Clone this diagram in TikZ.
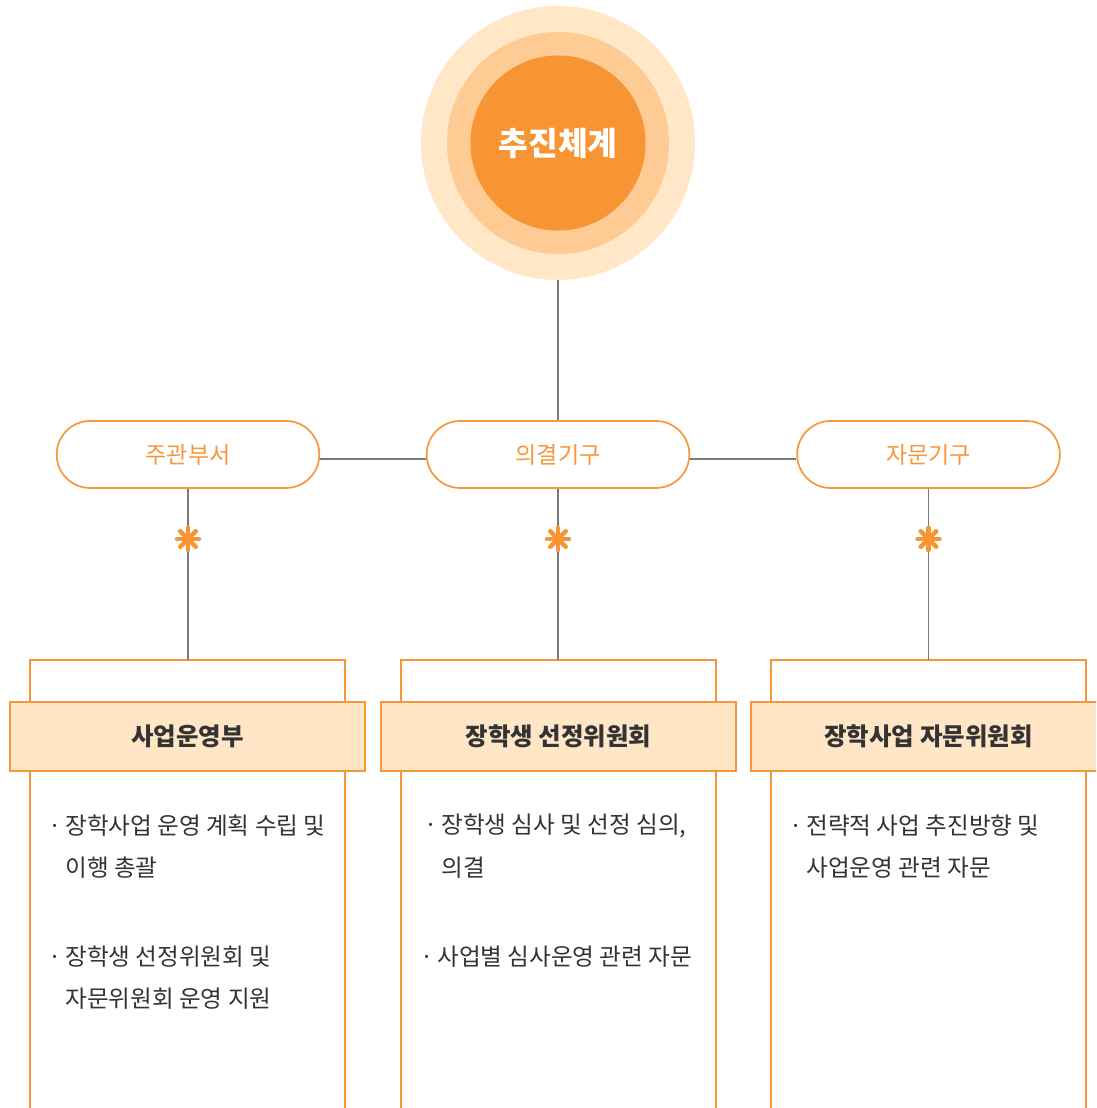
\documentclass[tikz,border=0pt]{standalone}
\usepackage{fontspec}
\setmainfont{Noto Sans CJK KR}
\usetikzlibrary{positioning, shapes.misc}
\definecolor{ringouter}{HTML}{FFE7C8}
\definecolor{ringmid}{HTML}{FDCB93}
\definecolor{ringinner}{HTML}{F79433}
\definecolor{edgeorange}{HTML}{F7963A}
\definecolor{linegray}{HTML}{7A7A7A}
\definecolor{headfill}{HTML}{FFE6C6}
\definecolor{textdark}{HTML}{333333}
\tikzset{
    pill/.style={
        draw=edgeorange, line width=1.2pt, rounded rectangle, fill=white,
        minimum width=6.8cm, minimum height=1.675cm,
        text=edgeorange, font=\fontsize{16.4}{19}\selectfont
    },
    header/.style={
        draw=edgeorange, line width=1.2pt, fill=headfill,
        minimum width=8.875cm, minimum height=1.725cm, inner sep=0pt,
        text=textdark, font=\bfseries\fontsize{17.4}{20}\selectfont
    },
    frame/.style = {draw=edgeorange, line width=1.2pt},
    link/.style = {draw=linegray, line width=1.2pt},
    item/.style = {anchor=west, inner sep=0pt, text=textdark, font=\fontsize{16.8}{20}\selectfont},
    spark/.style = {draw=ringinner, line width=3.2pt, line cap=round}
}
\newcommand{\dotmark}{\makebox[0.425cm][l]{·}}

\begin{document}
\begin{tikzpicture}[x=0.025cm, y=-0.025cm]

    \useasboundingbox (0,0) rectangle (1096,1108);
    \clip (0,0) rectangle (1096,1108);

    % Title rings
    \node[circle, fill=ringouter, minimum size=6.85cm] (ring1) at (558,143) {};
    \node[circle, fill=ringmid, minimum size=5.55cm] (ring2) at (558,143) {};
    \node[circle, fill=ringinner, minimum size=4.375cm, text=white,
        font=\bfseries\fontsize{23}{27}\selectfont] (core) at (558,143) {추진체계};

    % Level two
    \node[pill] (mainorg) at (558,454.5) {의결기구};
    \node[pill] (leftorg) at (188,454.5) {주관부서};
    \node[pill] (rightorg) at (928.5,454.5) {자문기구};

    \draw[link] (ring1.south) -- (mainorg.north);
    \draw[link] ([yshift=-3pt]leftorg.east) -- ([yshift=-3pt]mainorg.west);
    \draw[link] ([yshift=-3pt]mainorg.east) -- ([yshift=-3pt]rightorg.west);

    % Frames
    \draw[frame] (30,1120) -- (30,660) -- (345,660) -- (345,1120);
    \draw[frame] (401,1120) -- (401,660) -- (716,660) -- (716,1120);
    \draw[frame] (771,1120) -- (771,660) -- (1086,660) -- (1086,1120);

    \coordinate (lefttop) at (188,660);
    \coordinate (maintop) at (558,660);
    \coordinate (righttop) at (928.5,660);

    \draw[link] (leftorg.south) -- (lefttop);
    \draw[link] (mainorg.south) -- (maintop);
    \draw[link] (rightorg.south) -- (righttop);

    % Sparks
    \coordinate (leftspark) at (188,539);
    \coordinate (mainspark) at (558,539);
    \coordinate (rightspark) at (928.5,539);
    \foreach \s in {leftspark, mainspark, rightspark}
        \foreach \a in {0,45,90,135}
            \draw[spark] ([shift={(\a:11)}]\s) -- ([shift={(\a+180:11)}]\s);

    % Headers
    \node[header] (lefthead) at (187.5,736.5) {사업운영부};
    \node[header] (mainhead) at (558.5,736.5) {장학생 선정위원회};
    \node[header] (righthead) at (928.5,736.5) {장학사업 자문위원회};

    % Items
    \node[item] (leftitema) at (48,826) {\dotmark 장학사업 운영 계획 수립 및};
    \node[item] (leftitemb) at (65,868) {이행 총괄};
    \node[item] (leftitemc) at (48,957) {\dotmark 장학생 선정위원회 및};
    \node[item] (leftitemd) at (65,999) {자문위원회 운영 지원};

    \node[item] (mainitema) at (424,826) {\dotmark 장학생 심사 및 선정 심의,};
    \node[item] (mainitemb) at (441,868) {의결};
    \node[item] (mainitemc) at (420,957) {\dotmark 사업별 심사운영 관련 자문};

    \node[item] (rightitema) at (789,826) {\dotmark 전략적 사업 추진방향 및};
    \node[item] (rightitemb) at (806,868) {사업운영 관련 자문};

\end{tikzpicture}
\end{document}
